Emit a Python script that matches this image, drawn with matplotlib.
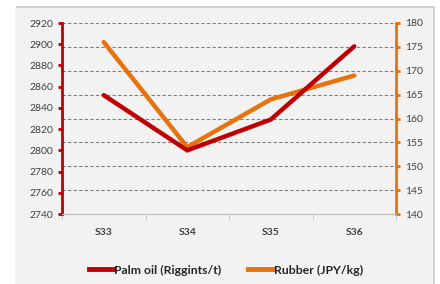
import matplotlib
matplotlib.use("Agg")
import matplotlib.pyplot as plt
from matplotlib.patches import Rectangle
from matplotlib.lines import Line2D

categories = ["S33", "S34", "S35", "S36"]
palm_oil = [2852, 2800, 2829, 2898]
rubber = [176, 154, 164, 169]
left_ticks = [2740, 2760, 2780, 2800, 2820, 2840, 2860, 2880, 2900, 2920]
right_ticks = [140, 145, 150, 155, 160, 165, 170, 175, 180]

RED = "#c00000"
ORANGE = "#e8720c"
TXT = "#404040"
plt.rcParams['font.family'] = ['Lato', 'DejaVu Sans']

W, H = 440, 284
fig = plt.figure(figsize=(W / 100, H / 100), dpi=100, facecolor="white")
# shadow and panel
fig.patches.append(Rectangle((16 / W, 0), 419 / W, 1 - 6 / H, transform=fig.transFigure,
                             facecolor="#d0d0d0", edgecolor="none", zorder=-3))
fig.patches.append(Rectangle((15 / W, 0), 418 / W, 1 - 8 / H, transform=fig.transFigure,
                             facecolor="#f2f2f2", edgecolor="none", zorder=-2))

ax = fig.add_axes([62 / W, 1 - 214 / H, (396 - 62) / W, (214 - 23) / H])
ax2 = ax.twinx()
x = list(range(len(categories)))

ax2.plot(x, rubber, color=ORANGE, lw=3.2, solid_capstyle="round", solid_joinstyle="miter", zorder=3)
ax.plot(x, palm_oil, color=RED, lw=3.2, solid_capstyle="round", solid_joinstyle="miter", zorder=3)

ax.set_zorder(ax2.get_zorder() + 1)
ax.patch.set_visible(False)
ax2.patch.set_visible(False)

ax.set_xlim(-0.5, len(categories) - 0.5)
ax.set_ylim(2740, 2920)
ax2.set_ylim(140, 180)
ax.set_yticks(left_ticks)
ax2.set_yticks(right_ticks)
ax2.grid(axis="y", color="#7f7f7f", ls=(0, (3, 2)), lw=0.8)
ax2.set_axisbelow(True)

ax.set_xticks(x)
ax.set_xticklabels(categories, fontsize=7.5, fontweight="bold", color=TXT)
ax.set_xticks([i - 0.5 for i in range(len(categories) + 1)], minor=True)
ax.tick_params(axis="x", which="major", length=0, pad=10)
ax.tick_params(axis="x", which="minor", length=4, color="#bfbfbf", direction="out")

ax.tick_params(axis="y", colors=RED, length=3, width=2, direction="out", labelsize=7.5, labelcolor=TXT)
ax2.tick_params(axis="y", colors=ORANGE, length=3, width=2, direction="out", labelsize=7.5, labelcolor=TXT)

for a in (ax, ax2):
    for s in a.spines.values():
        s.set_visible(False)
ax.spines["left"].set_visible(True)
ax.spines["left"].set_color(RED)
ax.spines["left"].set_linewidth(2)
ax.spines["bottom"].set_visible(True)
ax.spines["bottom"].set_color("#bfbfbf")
ax2.spines["right"].set_visible(True)
ax2.spines["right"].set_color(ORANGE)
ax2.spines["right"].set_linewidth(2)

handles = [Line2D([], [], color=RED, lw=3.5), Line2D([], [], color=ORANGE, lw=3.5)]
fig.legend(handles, ["Palm oil (Riggints/t)", "Rubber (JPY/kg)"], loc="center",
           bbox_to_anchor=(226 / W, 1 - 270 / H), ncol=2, frameon=False,
           prop={"size": 8.8, "weight": "bold"}, handlelength=2.0, handletextpad=0.05,
           columnspacing=2.2, labelcolor="#262626")

fig.savefig("out.png", dpi=100, facecolor="white")
